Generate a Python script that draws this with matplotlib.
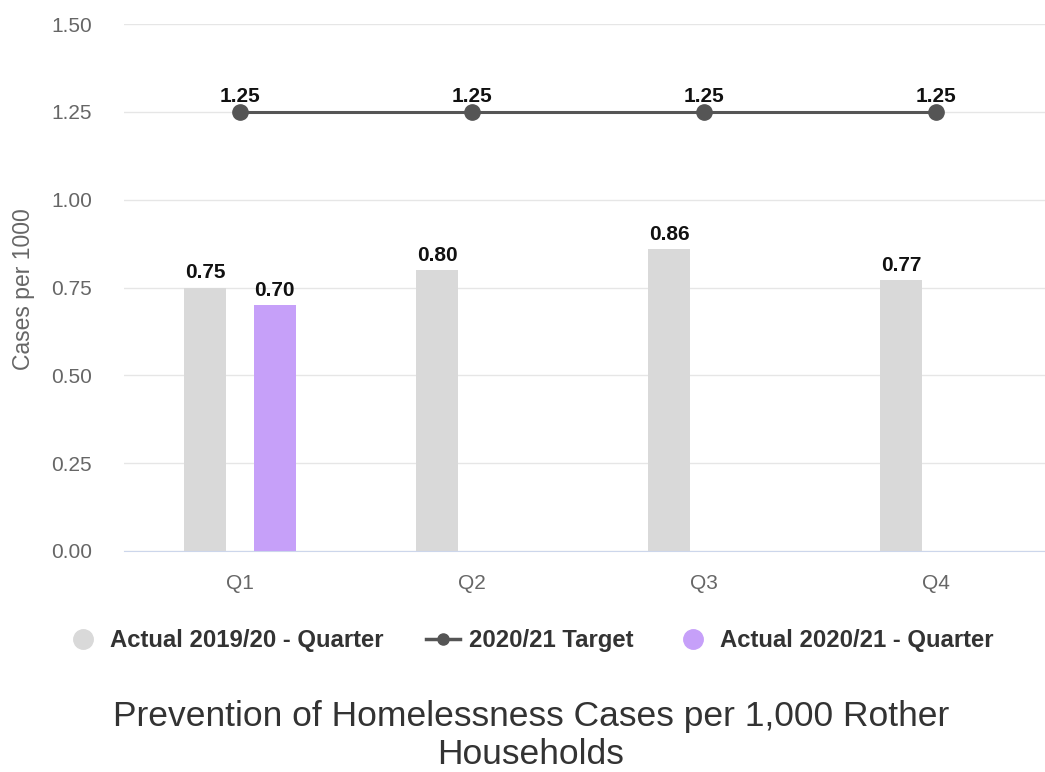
import matplotlib.pyplot as plt
import numpy as np
from matplotlib.lines import Line2D

# data
quarters = ["Q1", "Q2", "Q3", "Q4"]
actual_1920 = [0.75, 0.80, 0.86, 0.77]
actual_2021 = [0.70, None, None, None]
target_2021 = [1.25, 1.25, 1.25, 1.25]
y_ticks = [0.00, 0.25, 0.50, 0.75, 1.00, 1.25, 1.50]

GRAY = "#d9d9d9"
PURPLE = "#c6a0f9"
LINE = "#555555"

plt.rcParams['font.family'] = ['Liberation Sans', 'DejaVu Sans']

fig = plt.figure(figsize=(10.45, 7.72), dpi=100)
ax = fig.add_axes([124 / 1045, 1 - 551 / 772, 1 - 124 / 1045, (551 - 24) / 772])

x = np.arange(len(quarters))
off = 0.15
w = 0.18
lab_size = 15

ax.bar(x - off, actual_1920, width=w, color=GRAY, zorder=2)
for xi, v in zip(x, actual_1920):
    ax.text(xi - off, v + 0.015, f"{v:.2f}", ha='center', va='bottom',
            fontsize=lab_size, fontweight='bold', color='#111111')

for xi, v in zip(x, actual_2021):
    if v is None:
        continue
    ax.bar(xi + off, v, width=w, color=PURPLE, zorder=2)
    ax.text(xi + off, v + 0.015, f"{v:.2f}", ha='center', va='bottom',
            fontsize=lab_size, fontweight='bold', color='#111111')

ax.plot(x, target_2021, color=LINE, lw=2.2, marker='o', ms=11, zorder=3)
for xi, v in zip(x, target_2021):
    ax.text(xi, v + 0.018, f"{v:.2f}", ha='center', va='bottom',
            fontsize=lab_size, fontweight='bold', color='#111111')

ax.set_xlim(-0.5, 3.47)
ax.set_ylim(0, 1.5)
ax.set_yticks(y_ticks)
ax.set_yticklabels([f"{t:.2f}" for t in y_ticks])
ax.set_xticks(x)
ax.set_xticklabels(quarters)
ax.tick_params(axis='both', length=0, labelsize=15, colors='#666666')
ax.tick_params(axis='x', pad=16.5)
ax.tick_params(axis='y', pad=23)
ax.grid(axis='y', color='#e6e6e6', lw=1, zorder=0)
ax.set_axisbelow(True)
for s in ['top', 'right', 'left']:
    ax.spines[s].set_visible(False)
ax.spines['bottom'].set_color('#ccd6eb')

fig.text(24 / 1045, 1 - 289 / 772, "Cases per 1000", rotation=90,
         ha='center', va='center', fontsize=16.5, color='#666666')

handles = [
    Line2D([], [], ls='none', marker='o', ms=14, color=GRAY),
    Line2D([], [], color=LINE, lw=2.5, marker='o', ms=8),
    Line2D([], [], ls='none', marker='o', ms=14, color=PURPLE),
]
labels = ["Actual 2019/20 - Quarter", "2020/21 Target", "Actual 2020/21 - Quarter"]
leg = fig.legend(handles, labels, ncol=3, loc='center',
                 bbox_to_anchor=(530 / 1045, 1 - 641 / 772), frameon=False,
                 prop={'size': 17.2, 'weight': 'bold'}, handlelength=1.4,
                 columnspacing=1.8, handletextpad=0.4, borderpad=0)
for t in leg.get_texts():
    t.set_color('#333333')

# title: baseline of the last line
fig.text(531 / 1045, 1 - 764 / 772,
         "Prevention of Homelessness Cases per 1,000 Rother\nHouseholds",
         ha='center', va='baseline', fontsize=25.5, color='#333333',
         linespacing=1.18)

fig.savefig("out.png", dpi=100)
